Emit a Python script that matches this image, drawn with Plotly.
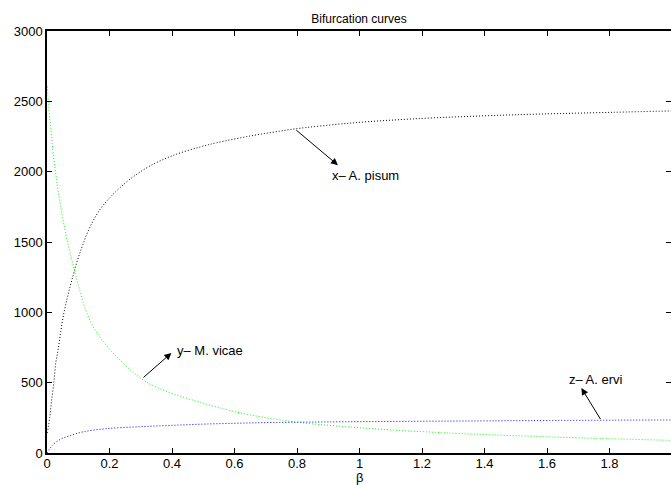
import plotly.graph_objects as go

# ---- data ----
beta_x = [0.001, 0.009, 0.014, 0.022, 0.028, 0.036, 0.044, 0.0535, 0.064, 0.075, 0.0845, 0.094,
          0.105, 0.115, 0.131, 0.153, 0.174, 0.201, 0.233, 0.275, 0.329, 0.403, 0.489, 0.542,
          0.649, 0.745, 0.793, 0.969, 1.171, 1.491, 1.811, 1.997]
x_pisum = [142, 256, 363, 502, 640, 740, 865, 989, 1095, 1192, 1270, 1345,
           1420, 1483, 1575, 1672, 1745, 1815, 1885, 1962, 2040, 2115, 2175, 2205,
           2253, 2288, 2304, 2345, 2375, 2404, 2422, 2432]

beta_y = [0.001, 0.005, 0.010, 0.015, 0.019, 0.025, 0.030, 0.035, 0.041, 0.046, 0.051, 0.057,
          0.062, 0.073, 0.083, 0.094, 0.105, 0.115, 0.131, 0.147, 0.163, 0.174, 0.222, 0.302,
          0.350, 0.403, 0.510, 0.617, 0.723, 0.809, 0.905, 1.011, 1.118, 1.225, 1.331, 1.502,
          1.715, 1.996]
y_vicae = [2607, 2477, 2354, 2240, 2138, 2038, 1951, 1868, 1794, 1725, 1659, 1593,
           1536, 1434, 1339, 1245, 1155, 1075, 975, 900, 845, 810, 685, 528,
           468, 422, 348, 286, 243, 217, 196, 178, 161, 149, 137, 123, 107, 90]

beta_z = [0.0, 0.019, 0.041, 0.073, 0.115, 0.19, 0.297, 0.403, 0.51, 0.617, 0.723, 0.851,
          1.065, 1.385, 1.6, 1.996]
z_ervi = [0, 59, 95, 123, 150, 173, 187, 197, 206, 212, 217, 220,
          224, 228, 231, 235]

x_ticks = [0, 0.2, 0.4, 0.6, 0.8, 1.0, 1.2, 1.4, 1.6, 1.8, 2.0]
y_ticks = [0, 500, 1000, 1500, 2000, 2500, 3000]

labels = ["x\u2013 A. pisum", "y\u2013 M. vicae", "z\u2013 A. ervi"]
label_pos = [(0.905, 1974), (0.409, 730), (1.664, 526)]
arrow_tail = [(0.793, 2304), (0.304, 528), (1.774, 230)]
arrow_head = [(0.931, 2046), (0.398, 711), (1.710, 462)]

FONT = "Liberation Sans, Arial, Helvetica, sans-serif"

fig = go.Figure()
line_shape = dict(shape="spline", smoothing=1.0)
fig.add_trace(go.Scatter(x=beta_x, y=x_pisum, mode="lines",
                         line=dict(color="black", width=1, dash="1px,2px", **line_shape), showlegend=False))
fig.add_trace(go.Scatter(x=beta_y, y=y_vicae, mode="lines",
                         line=dict(color="#00ff00", width=1, dash="1px,2px", **line_shape), showlegend=False))
fig.add_trace(go.Scatter(x=beta_z, y=z_ervi, mode="lines",
                         line=dict(color="#0000ff", width=1, dash="1px,2px", **line_shape), showlegend=False))
# dummy trace to activate right-hand tick axis
fig.add_trace(go.Scatter(x=[None], y=[None], yaxis="y2", showlegend=False, hoverinfo="skip"))

annotations = []
for txt, (lx, ly) in zip(labels, label_pos):
    annotations.append(dict(x=lx, y=ly, xref="x", yref="y", text=txt, showarrow=False,
                            xanchor="left", yanchor="middle",
                            font=dict(family=FONT, size=13, color="black")))
for (tx, ty), (hx, hy) in zip(arrow_tail, arrow_head):
    annotations.append(dict(x=hx, y=hy, ax=tx, ay=ty, xref="x", yref="y", axref="x", ayref="y",
                            text="", showarrow=True, arrowhead=2, arrowsize=1.4, arrowwidth=1,
                            arrowcolor="black", standoff=0, startstandoff=0))
annotations.append(dict(x=1.0, y=-0.058, xref="x", yref="paper", text="\u03b2", showarrow=False,
                        xanchor="center", yanchor="middle",
                        font=dict(family=FONT, size=13, color="black")))

fig.update_layout(
    width=671, height=485,
    margin=dict(l=47, r=0, t=31, b=32, autoexpand=False),
    paper_bgcolor="white", plot_bgcolor="white",
    font=dict(family=FONT, size=13, color="black"),
    title=dict(text="Bifurcation curves", x=0.5, xref="paper", xanchor="center",
               y=1 - 18.3 / 485, yanchor="middle", automargin=False,
               font=dict(family=FONT, size=12, color="black")),
    xaxis=dict(range=[0, 624 / 312.5], tickvals=x_ticks, ticks="inside", ticklen=5, tickwidth=1,
               tickcolor="black", showline=True, linecolor="black", linewidth=1.5, mirror="ticks",
               showgrid=False, zeroline=False, automargin=False, ticklabelstandoff=-2,
               tickfont=dict(family=FONT, size=13)),
    yaxis=dict(range=[0, 3000], tickvals=y_ticks, ticks="inside", ticklen=5, tickwidth=1,
               tickcolor="black", showline=True, linecolor="black", linewidth=1.5, mirror=False,
               showgrid=False, zeroline=False, automargin=False, tickfont=dict(family=FONT, size=13)),
    yaxis2=dict(range=[0, 3000], tickvals=y_ticks, overlaying="y", side="right", ticks="inside",
                ticklen=5, tickwidth=1, tickcolor="black", showline=False, showticklabels=False,
                showgrid=False, zeroline=False, automargin=False),
    annotations=annotations,
)

fig.write_html("out.html", config={"displayModeBar": False},
               post_script="document.body.style.margin='0';document.body.style.overflow='hidden';")
